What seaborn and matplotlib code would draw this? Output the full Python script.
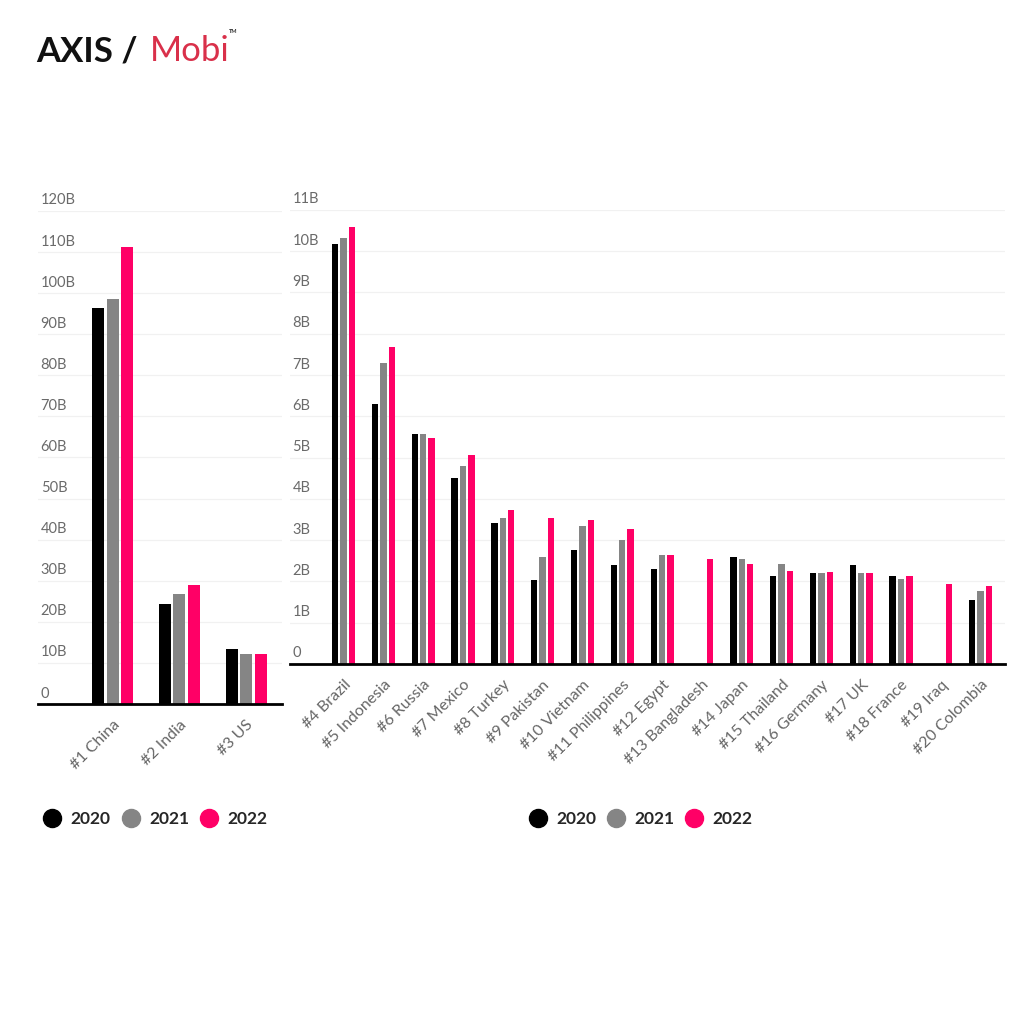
import numpy as np
import pandas as pd
import seaborn as sns
import matplotlib.pyplot as plt
from matplotlib.lines import Line2D
from matplotlib.transforms import ScaledTranslation

years = ["2020", "2021", "2022"]
colors = ["#000000", "#858585", "#ff0066"]

top_countries = ["#1 China", "#2 India", "#3 US"]
top_2020 = [96.3, 24.3, 13.4]
top_2021 = [98.5, 26.8, 12.2]
top_2022 = [111.2, 29.0, 12.2]

rest_countries = ["#4 Brazil", "#5 Indonesia", "#6 Russia", "#7 Mexico", "#8 Turkey",
                  "#9 Pakistan", "#10 Vietnam", "#11 Philippines", "#12 Egypt",
                  "#13 Bangladesh", "#14 Japan", "#15 Thailand", "#16 Germany",
                  "#17 UK", "#18 France", "#19 Iraq", "#20 Colombia"]
rest_2020 = [10.17, 6.30, 5.57, 4.50, 3.41, 2.03, 2.76, 2.40, 2.30, np.nan,
             2.59, 2.13, 2.20, 2.40, 2.13, np.nan, 1.55]
rest_2021 = [10.31, 7.29, 5.57, 4.79, 3.54, 2.59, 3.34, 3.00, 2.64, np.nan,
             2.54, 2.42, 2.20, 2.20, 2.06, np.nan, 1.77]
rest_2022 = [10.58, 7.68, 5.47, 5.06, 3.73, 3.54, 3.49, 3.27, 2.64, 2.54,
             2.42, 2.25, 2.23, 2.20, 2.13, 1.94, 1.89]

top_ticks = list(range(0, 121, 10))
top_labels = ["0"] + [f"{v}B" for v in top_ticks[1:]]
rest_ticks = list(range(0, 12))
rest_labels = ["0"] + [f"{v}B" for v in rest_ticks[1:]]


def long_form(countries, a, b, c):
    df = pd.DataFrame({"country": countries, "2020": a, "2021": b, "2022": c})
    df = df.melt(id_vars="country", var_name="year", value_name="value")
    return df.dropna()


sns.set_theme(style="white")
plt.rcParams["font.family"] = ["Lato", "DejaVu Sans"]

fig = plt.figure(figsize=(10.24, 10.24), dpi=100)
fig.patch.set_facecolor("white")

ax1 = fig.add_axes([0.037, 0.3125, 0.238, 0.4815])
ax2 = fig.add_axes([0.283, 0.3516, 0.698, 0.4434])


def draw(ax, countries, a, b, c, ticks, labels, ylim, xlim, group_w, shrink):
    df = long_form(countries, a, b, c)
    sns.barplot(data=df, x="country", y="value", hue="year", order=countries,
                hue_order=years, palette=colors, width=group_w, ax=ax,
                legend=False, linewidth=0, saturation=1)
    for p in ax.patches:
        w = p.get_width()
        p.set_x(p.get_x() + w * (1 - shrink) / 2)
        p.set_width(w * shrink)
    ax.set_ylim(*ylim)
    ax.set_xlim(*xlim)
    ax.set_xlabel("")
    ax.set_ylabel("")
    for s in ["top", "right", "left"]:
        ax.spines[s].set_visible(False)
    ax.spines["bottom"].set_color("black")
    ax.spines["bottom"].set_linewidth(2)
    ax.set_yticks(ticks)
    ax.set_yticklabels(labels)
    ax.grid(axis="y", color="#f1f1f1", linewidth=0.9)
    ax.set_axisbelow(True)
    ax.tick_params(axis="y", length=0, pad=-2, labelsize=10.5, labelcolor="#6a6a6a")
    off = ScaledTranslation(0, 12 / 100, fig.dpi_scale_trans)
    for lab in ax.get_yticklabels():
        lab.set_horizontalalignment("left")
        lab.set_transform(lab.get_transform() + off)
    ax.set_xticks(range(len(countries)))
    ax.set_xticklabels(countries, rotation=45, ha="right", rotation_mode="anchor",
                       fontsize=11.5, color="#666666")
    ax.tick_params(axis="x", which="major", length=0, pad=10)
    ax.set_xticks(np.arange(len(countries) + 1) - 0.5, minor=True)
    ax.tick_params(axis="x", which="minor", length=8, width=1, color="black",
                   direction="out")
    handles = [Line2D([], [], marker="o", linestyle="", markersize=13,
                      markerfacecolor=col, markeredgecolor=col) for col in colors]
    leg = ax.legend(handles, years, loc="center", ncol=3, frameon=False,
                    bbox_to_anchor=(0.5, 0), bbox_transform=ax.transAxes,
                    handlelength=1.2, handletextpad=0.45, columnspacing=0.55,
                    prop={"size": 12.5, "weight": "bold"})
    return leg


leg1 = draw(ax1, top_countries, top_2020, top_2021, top_2022, top_ticks, top_labels,
            (0, 120), (-1.12, 2.53), 0.645, 0.84)
leg1.set_bbox_to_anchor((0.151, 0.2), transform=fig.transFigure)

leg2 = draw(ax2, rest_countries, rest_2020, rest_2021, rest_2022, rest_ticks, rest_labels,
            (0, 11), (-1.35, 16.6), 0.63, 0.76)
leg2.set_bbox_to_anchor((0.625, 0.2), transform=fig.transFigure)

fig.text(0.035, 0.94, "AXIS /", fontsize=25, fontweight="bold", color="#111111",
         family=["Lato", "DejaVu Sans"])
fig.text(0.146, 0.94, "Mobi", fontsize=25, color="#d9304a",
         family=["Lato", "DejaVu Sans"], fontweight="normal")
fig.text(0.224, 0.968, "TM", fontsize=4, color="#333333", fontweight="bold")

fig.savefig("out.png", dpi=100, facecolor="white")
